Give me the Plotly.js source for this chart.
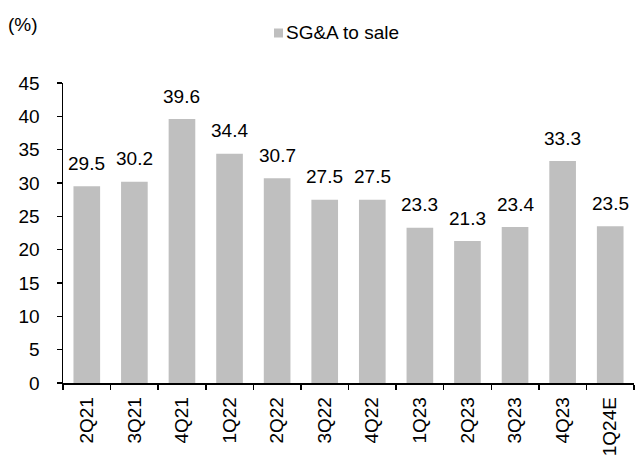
<!DOCTYPE html>
<html>
<head>
<meta charset="utf-8">
<script src="https://cdn.plot.ly/plotly-3.0.1.min.js"></script>
<style>html,body{margin:0;padding:0;background:#fff;}#chart{width:635px;height:455px;}</style>
</head>
<body>
<div id="chart"></div>
<script>
const categories = ["2Q21","3Q21","4Q21","1Q22","2Q22","3Q22","4Q22","1Q23","2Q23","3Q23","4Q23","1Q24E"];
const sgaToSale = [29.5, 30.2, 39.6, 34.4, 30.7, 27.5, 27.5, 23.3, 21.3, 23.4, 33.3, 23.5];
const yTicks = [0,5,10,15,20,25,30,35,40,45];
const seriesName = "SG&A to sale";
const unitLabel = "(%)";

const FONT = "Liberation Sans, Arial, sans-serif";
const FS = 19;
const BAR_COLOR = "#bfbfbf";

const trace = {
  type: "bar",
  x: categories,
  y: sgaToSale,
  name: seriesName,
  marker: {color: BAR_COLOR},
  showlegend: false,
  hoverinfo: "none"
};

const labelAnnotations = categories.map((c, i) => ({
  x: c, y: sgaToSale[i], xref: "x", yref: "y",
  text: sgaToSale[i].toFixed(1),
  showarrow: false, yanchor: "middle", xanchor: "center",
  yshift: 23,
  font: {family: FONT, size: FS, color: "#000"}
}));

const layout = {
  width: 635, height: 455,
  margin: {l: 63, r: 1, t: 83, b: 72},
  paper_bgcolor: "#fff", plot_bgcolor: "#fff",
  font: {family: FONT, size: FS, color: "#000"},
  bargap: 0.44,
  showlegend: false,
  xaxis: {
    type: "category",
    tickangle: -90,
    showline: true, linecolor: "#000", linewidth: 1.5,
    ticks: "outside", ticklen: 5, tickcolor: "#000", tickwidth: 1.5,
    tickson: "boundaries",
    ticklabelstandoff: 5,
    showgrid: false, zeroline: false,
    tickfont: {family: FONT, size: FS, color: "#000"},
    fixedrange: true
  },
  yaxis: {
    range: [0, 45],
    tickvals: yTicks,
    ticktext: yTicks.map(String),
    showline: true, linecolor: "#000", linewidth: 1.5,
    ticks: "outside", ticklen: 5, tickcolor: "#000", tickwidth: 1.5,
    showgrid: false, zeroline: false,
    tickfont: {family: FONT, size: FS, color: "#000"},
    ticklabelstandoff: 13,
    fixedrange: true
  },
  shapes: [{
    type: "rect", xref: "paper", yref: "paper",
    x0: (274 - 63) / 571, x1: (283 - 63) / 571,
    y0: (383 - 37.5) / 300, y1: (383 - 28.5) / 300,
    fillcolor: BAR_COLOR, line: {width: 0}
  }],
  annotations: [{
    text: unitLabel, xref: "paper", yref: "paper",
    x: (6 - 63) / 571, y: (383 - 25) / 300, xanchor: "left", yanchor: "middle",
    showarrow: false, font: {family: FONT, size: FS, color: "#000"}
  }, {
    text: seriesName, xref: "paper", yref: "paper",
    x: (284 - 63) / 571, y: (383 - 33) / 300, xanchor: "left", yanchor: "middle",
    showarrow: false, font: {family: FONT, size: FS, color: "#000"}
  }].concat(labelAnnotations)
};

Plotly.newPlot("chart", [trace], layout, {displayModeBar: false, staticPlot: true});
</script>
</body>
</html>
